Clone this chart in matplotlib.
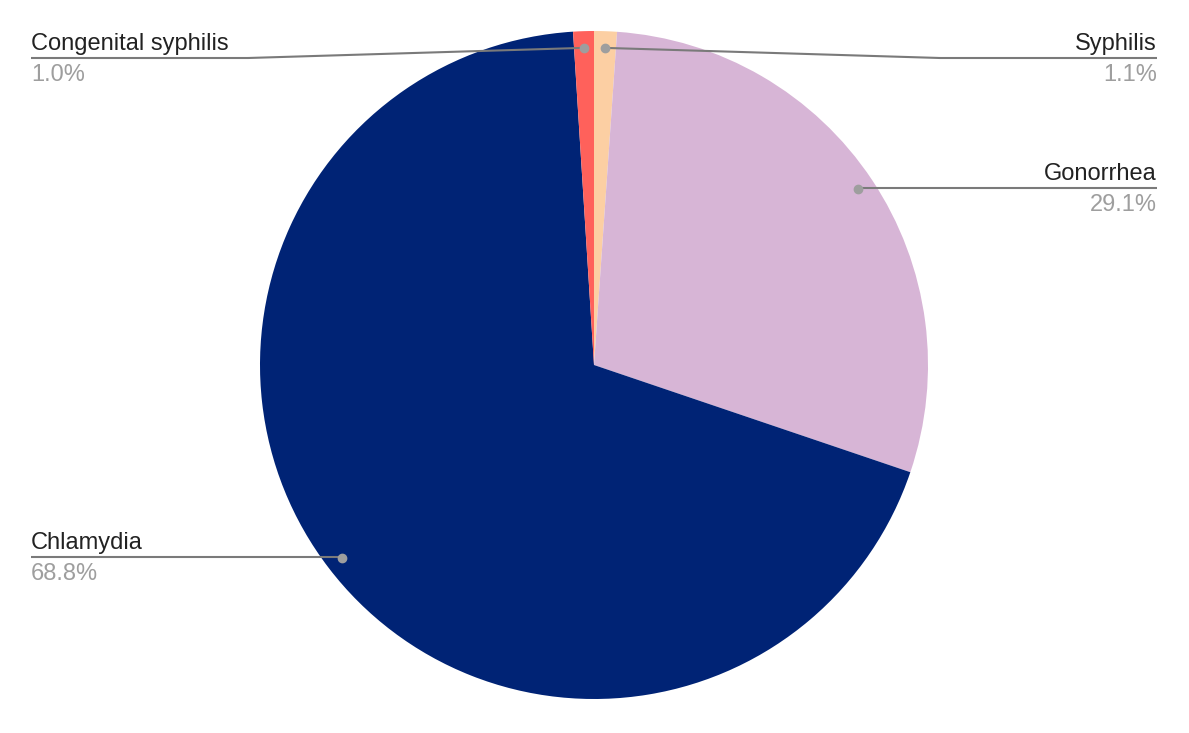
import matplotlib.pyplot as plt
import numpy as np

plt.rcParams['font.family'] = ['Liberation Sans', 'DejaVu Sans']

labels = ["Syphilis", "Gonorrhea", "Chlamydia", "Congenital syphilis"]
values = [1.1, 29.1, 68.8, 1.0]
colors = ["#fccfa3", "#d7b5d6", "#002375", "#ff615b"]

W, H = 1189, 733
fig = plt.figure(figsize=(W / 100, H / 100), dpi=100)
ax = fig.add_axes([0, 0, 1, 1])

cx, cy, R = 594, H - 365, 334
wedges, _ = ax.pie(values, colors=colors, startangle=90, counterclock=False,
                   center=(cx, cy), radius=R, frame=True)
ax.set_xlim(0, W)
ax.set_ylim(0, H)
ax.set_aspect("equal")
ax.axis("off")

# label placement: (line y in pixels from top, side, elbow x)
layout = {
    "Syphilis": (58, "right", 940),
    "Gonorrhea": (188, "right", None),
    "Chlamydia": (557, "left", None),
    "Congenital syphilis": (58, "left", 248),
}

for w, lab, val in zip(wedges, labels, values):
    mid = np.deg2rad((w.theta1 + w.theta2) / 2)
    px = cx + 0.95 * R * np.cos(mid)
    py = cy + 0.95 * R * np.sin(mid)
    ly, side, elbow = layout[lab]
    ly = H - ly
    xe = 1157 if side == "right" else 31
    if elbow is None:
        xs, ys = [px, xe], [ly, ly]
    else:
        xs, ys = [px, elbow, xe], [py, ly, ly]
    ax.plot(xs, ys, color="#7a7a7a", lw=1.5, solid_capstyle="butt", zorder=3)
    ax.plot(px, py, "o", color="#9e9e9e", ms=6, zorder=4)
    ha = "right" if side == "right" else "left"
    ax.text(xe, ly + 8, lab, ha=ha, va="baseline", fontsize=17, color="#222222")
    ax.text(xe, ly - 23, f"{val:.1f}%", ha=ha, va="baseline", fontsize=17, color="#9e9e9e")

fig.savefig("out.png", dpi=100)
